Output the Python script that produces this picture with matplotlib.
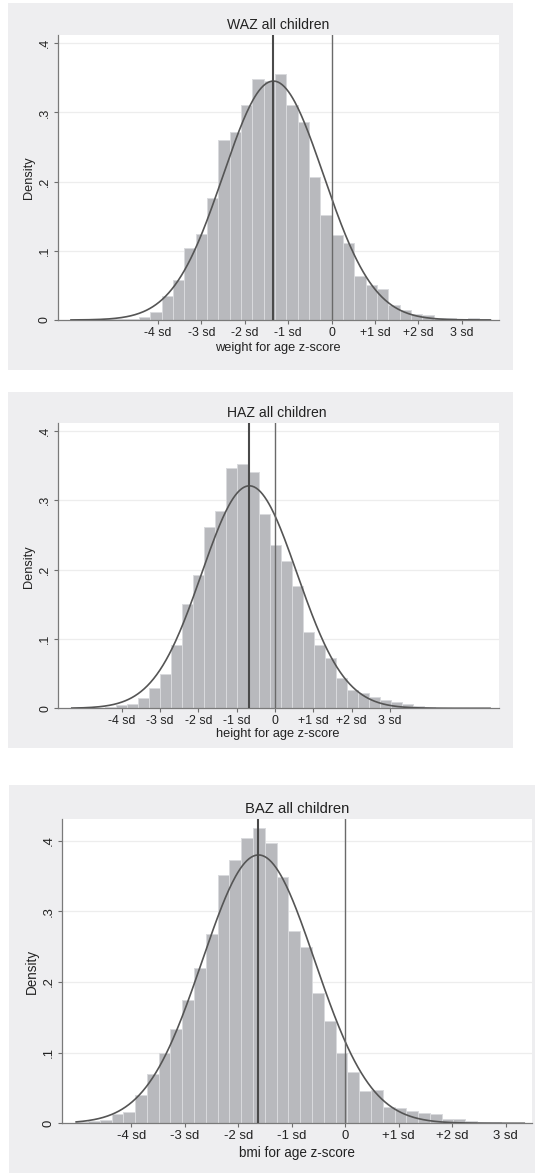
import numpy as np
import matplotlib
matplotlib.use("Agg")
import matplotlib.pyplot as plt
from matplotlib.patches import Rectangle

plt.rcParams["font.family"] = ["Liberation Sans", "DejaVu Sans"]

W, H = 535, 1173

# shared axis ticks
sd_ticks = [-4, -3, -2, -1, 0, 1, 2, 3]
sd_labels = ["-4 sd", "-3 sd", "-2 sd", "-1 sd", "0", "+1 sd", "+2 sd", "3 sd"]
dens_ticks = [0, 0.1, 0.2, 0.3, 0.4]
dens_labels = ["0", ".1", ".2", ".3", ".4"]

# WAZ: histogram (bin start, bin width, densities) and fitted normal
waz_start, waz_width = -6.0, 0.261
waz_density = [0.0005, 0.0005, 0.001, 0.001, 0.002, 0.002, 0.005, 0.012, 0.034,
               0.058, 0.104, 0.125, 0.177, 0.260, 0.272, 0.311, 0.348, 0.346,
               0.356, 0.311, 0.286, 0.207, 0.152, 0.123, 0.112, 0.064, 0.051,
               0.045, 0.021, 0.015, 0.009, 0.007, 0.003, 0.003, 0.001, 0.003,
               0.001]
waz_mean, waz_sd = -1.34, 1.155

# HAZ
haz_start, haz_width = -5.30, 0.287
haz_density = [0.0005, 0.001, 0.001, 0.002, 0.005, 0.006, 0.015, 0.030, 0.049,
               0.091, 0.150, 0.193, 0.262, 0.285, 0.346, 0.353, 0.341, 0.281,
               0.236, 0.213, 0.176, 0.110, 0.092, 0.072, 0.043, 0.027, 0.022,
               0.016, 0.012, 0.009, 0.006, 0.003, 0.002, 0.001, 0.001, 0.0005,
               0.001, 0.001]
haz_mean, haz_sd = -0.67, 1.243

# BAZ
baz_start, baz_width = -5.03, 0.2205
baz_density = [0.002, 0.003, 0.004, 0.013, 0.0165, 0.040, 0.070, 0.099, 0.133,
               0.175, 0.220, 0.268, 0.351, 0.372, 0.404, 0.417, 0.397, 0.349,
               0.272, 0.249, 0.184, 0.145, 0.099, 0.073, 0.045, 0.047, 0.023,
               0.021, 0.018, 0.014, 0.013, 0.006, 0.006, 0.003, 0.002, 0.002,
               0.001, 0.001]
baz_mean, baz_sd = -1.62, 1.051

panels = [
    dict(title="WAZ all children", xlabel="weight for age z-score",
         start=waz_start, width=waz_width, dens=waz_density, mean=waz_mean, sd=waz_sd,
         bg=(7.5, 3.3, 512.5, 370), ax=(57.5, 35, 499, 320), xlim=(-6.31, 3.855), ytop=0.412,
         title_xy=(278, 25), xlab_xy=(278, 348), ylab_xy=(29, 177.5), fs=1.0),
    dict(title="HAZ all children", xlabel="height for age z-score",
         start=haz_start, width=haz_width, dens=haz_density, mean=haz_mean, sd=haz_sd,
         bg=(7.5, 391.7, 512.5, 748.3), ax=(58, 422.7, 499, 708.3), xlim=(-5.66, 5.84), ytop=0.412,
         title_xy=(277, 413.3), xlab_xy=(278, 734), ylab_xy=(29, 566.7), fs=1.0),
    dict(title="BAZ all children", xlabel="bmi for age z-score",
         start=baz_start, width=baz_width, dens=baz_density, mean=baz_mean, sd=baz_sd,
         bg=(8.5, 785, 536, 1174), ax=(61.7, 819.3, 532.3, 1123.3), xlim=(-5.30, 3.50), ytop=0.430,
         title_xy=(297, 809.3), xlab_xy=(297, 1153), ylab_xy=(31.5, 971.7), fs=1.06),
]

fig = plt.figure(figsize=(W / 100, H / 100), dpi=100)
fig.patch.set_facecolor("white")


def fx(x):
    return x / W


def fy(y):
    return 1 - y / H


for p in panels:
    x0, y0, x1, y1 = p["bg"]
    fig.add_artist(Rectangle((fx(x0), fy(y1)), fx(x1 - x0), (y1 - y0) / H,
                             transform=fig.transFigure, facecolor="#eeeef0",
                             edgecolor="none", zorder=-5))

    ax0, ay0, ax1, ay1 = p["ax"]
    ax = fig.add_axes([fx(ax0), fy(ay1), fx(ax1 - ax0), (ay1 - ay0) / H])
    ax.set_zorder(2)
    ax.set_facecolor("white")

    n = len(p["dens"])
    edges = p["start"] + p["width"] * np.arange(n + 1)
    ax.bar(edges[:-1], p["dens"], width=p["width"], align="edge",
           color="#b8b9bd", edgecolor="#d9dadd", linewidth=0.7, zorder=2)

    xs = np.linspace(edges[0], edges[-1], 400)
    ys = np.exp(-0.5 * ((xs - p["mean"]) / p["sd"]) ** 2) / (p["sd"] * np.sqrt(2 * np.pi))
    ax.plot(xs, ys, color="#555555", linewidth=1.2, zorder=3)

    ax.axvline(p["mean"], color="#4a4a4a", linewidth=1.5, zorder=4)
    ax.axvline(0, color="#6a6a6a", linewidth=1.0, zorder=4)

    ax.set_xlim(*p["xlim"])
    ax.set_ylim(0, p["ytop"])
    for g in dens_ticks[1:]:
        ax.axhline(g, color="#ededed", linewidth=0.9, zorder=1)

    tfs = 8.9 * p["fs"]
    ax.set_xticks(sd_ticks)
    ax.set_xticklabels(sd_labels, fontsize=tfs, color="#222222")
    ax.set_yticks(dens_ticks)
    ax.set_yticklabels(dens_labels, fontsize=tfs, color="#222222", rotation=90, va="center")
    ax.tick_params(axis="both", direction="out", length=3, width=0.8, color="#6e6e6e", pad=2)

    for s in ["top", "right"]:
        ax.spines[s].set_visible(False)
    for s in ["left", "bottom"]:
        ax.spines[s].set_color("#7a7a7a")
        ax.spines[s].set_linewidth(0.9)

    fig.text(fx(p["title_xy"][0]), fy(p["title_xy"][1]), p["title"], ha="center", va="center",
             fontsize=10.1 * p["fs"], color="#222222", zorder=3)
    fig.text(fx(p["xlab_xy"][0]), fy(p["xlab_xy"][1]), p["xlabel"], ha="center", va="center",
             fontsize=9.2 * p["fs"], color="#222222", zorder=3)
    fig.text(fx(p["ylab_xy"][0]), fy(p["ylab_xy"][1]), "Density", ha="center", va="center",
             rotation=90, fontsize=9.2 * p["fs"], color="#222222", zorder=3)

fig.savefig("out.png", dpi=100, facecolor="white")
